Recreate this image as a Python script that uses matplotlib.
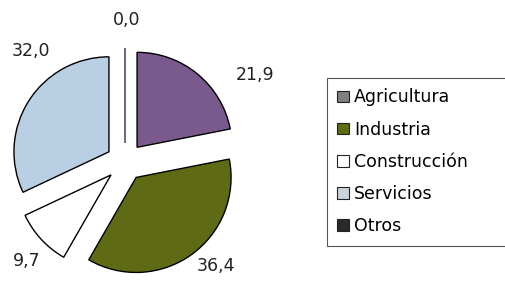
import matplotlib.pyplot as plt
from matplotlib.patches import Patch

plt.rcParams['font.family'] = ['DejaVu Sans']

# sector shares (%)
sectors = ['Agricultura', 'Industria', 'Construcción', 'Servicios', 'Otros']
shares = [21.9, 36.4, 9.7, 32.0, 0.0]
value_labels = ['21,9', '36,4', '9,7', '32,0', '0,0']
wedge_colors = ['#7a5a8c', '#5f6a14', '#ffffff', '#b8cfe4', '#3a3a6a']
legend_colors = ['#808080', '#5f6a14', '#ffffff', '#c9d3dc', '#2a2a2a']

fig = plt.figure(figsize=(5.06, 2.83), dpi=100)
# pie centre at about (125, 162) px, radius ~95 px
W, H = 506, 283
half = 1.3 * 95
ax = fig.add_axes([(125 - half) / W, (283 - 162 - half) / H, 2 * half / W, 2 * half / H])

wedges, texts = ax.pie(shares, labels=value_labels, colors=wedge_colors,
                       startangle=90, counterclock=False,
                       explode=[0.2] * len(shares), labeldistance=1.3,
                       wedgeprops=dict(edgecolor='black', linewidth=1.0),
                       textprops=dict(fontsize=12.5, color='#222222'))
wedges[-1].set_edgecolor('#2a2a60')

# label nudges so they sit where the original has them
nudges = [(0.42, -0.24), (0.08, 0.12), (0.07, -0.03), (0.28, 0.36), (0.02, 0.0)]
for t, (dx, dy) in zip(texts, nudges):
    t.set_ha('center')
    t.set_va('center')
    x, y = t.get_position()
    t.set_position((x + dx, y + dy))

ax.set_xlim(-1.3, 1.3)
ax.set_ylim(-1.3, 1.3)
ax.set_aspect('equal')
ax.axis('off')

handles = [Patch(facecolor=c, edgecolor='#222222', linewidth=0.8) for c in legend_colors]
leg = fig.legend(handles, sectors, loc='upper left',
                 bbox_to_anchor=(327 / W, 1 - 78 / H, 200 / W, 0.0), mode='expand',
                 fontsize=12.5, handlelength=0.65, handleheight=0.65,
                 handletextpad=0.3, labelspacing=0.82, borderpad=0.6,
                 fancybox=False, framealpha=1, edgecolor='#555555', borderaxespad=0)
leg.get_frame().set_linewidth(0.8)

fig.savefig('out.png', dpi=100)
